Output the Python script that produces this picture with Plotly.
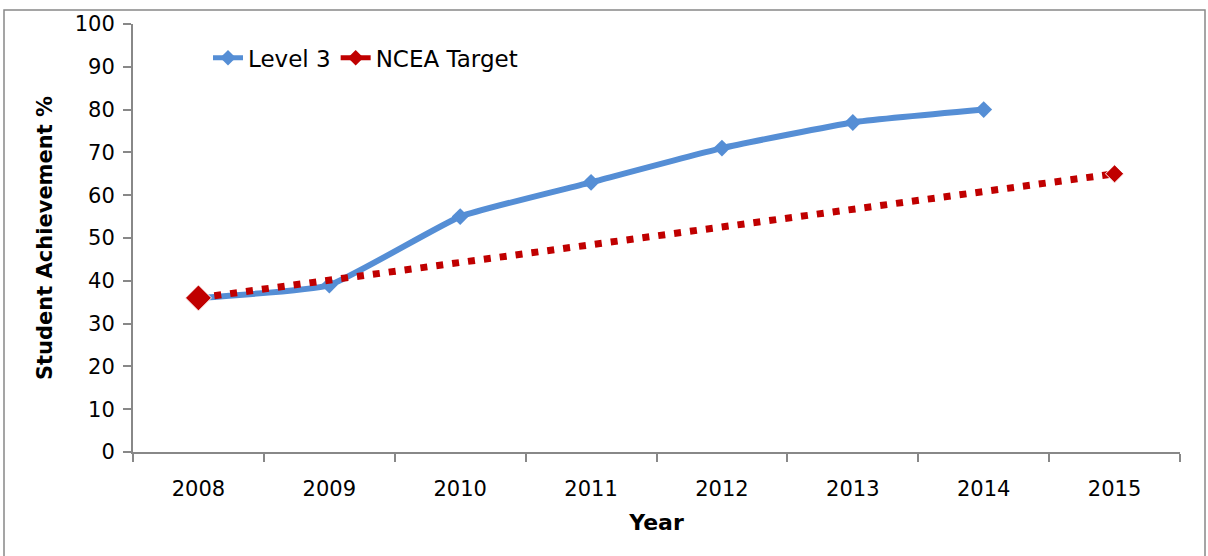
import plotly.graph_objects as go

years = ["2008", "2009", "2010", "2011", "2012", "2013", "2014", "2015"]
level3 = [36, 39, 55, 63, 71, 77, 80, None]
ncea_target = [36, None, None, None, None, None, None, 65]
ncea_marker_sizes = [20, 0, 0, 0, 0, 0, 0, 14]
y_ticks = [0, 10, 20, 30, 40, 50, 60, 70, 80, 90, 100]

W, H = 1208, 556
ml, mr, mt, mb = 133, 28, 21, 104
pw, ph = W - ml - mr, H - mt - mb

BLUE, RED = "#558ED5", "#C00000"

fig = go.Figure()
fig.add_trace(go.Scatter(
    x=years, y=level3, name="Level 3", mode="lines+markers",
    line=dict(color=BLUE, width=6, shape="spline", smoothing=0.4),
    marker=dict(symbol="diamond", size=13, color=BLUE),
))
fig.add_trace(go.Scatter(
    x=years, y=ncea_target, name="NCEA Target", mode="lines+markers",
    connectgaps=True, showlegend=False,
    line=dict(color=RED, width=7, dash="7px,9px"),
    marker=dict(symbol="diamond", size=ncea_marker_sizes, color=RED, opacity=1),
))
# legend entry for the target (solid line sample, as in the original)
fig.add_trace(go.Scatter(
    x=[None], y=[None], name="NCEA Target", mode="lines+markers",
    line=dict(color=RED, width=6),
    marker=dict(symbol="diamond", size=13, color=RED),
))

font = "DejaVu Sans, Verdana, sans-serif"
fig.update_layout(
    width=W, height=H,
    margin=dict(l=ml, r=mr, t=mt, b=mb),
    paper_bgcolor="white", plot_bgcolor="white",
    font=dict(family=font, size=21, color="black"),
    showlegend=True,
    legend=dict(x=(208 - ml) / pw, y=(H - mb - 55) / ph, xanchor="left", yanchor="middle",
                orientation="h", bgcolor="rgba(0,0,0,0)", itemwidth=30,
                font=dict(size=23), tracegroupgap=0, itemsizing="constant"),
    xaxis=dict(
        type="category", range=[-0.5, 7.5],
        showline=True, linecolor="#888888", linewidth=2,
        ticks="outside", tickson="boundaries", ticklen=8, tickcolor="#888888", tickwidth=2,
        showgrid=False, zeroline=False,
        tickfont=dict(size=21), ticklabelstandoff=17,
        title=dict(text="<b>Year</b>", font=dict(size=22), standoff=14),
    ),
    yaxis=dict(
        range=[0, 100], tickvals=y_ticks,
        showline=True, linecolor="#888888", linewidth=2,
        ticks="outside", ticklen=8, tickcolor="#888888", tickwidth=2,
        showgrid=False, zeroline=False,
        tickfont=dict(size=21), ticklabelstandoff=4,
        title=dict(text="<b>Student Achievement %</b>", font=dict(size=21), standoff=16),
    ),
)

# outer chart border (bottom edge lies outside the picture)
fig.add_shape(type="rect", xref="paper", yref="paper",
              x0=(4 - ml) / pw, x1=(1205 - ml) / pw,
              y0=(H - mb - 600) / ph, y1=(H - mb - 7) / ph,
              line=dict(color="#888888", width=1.5), fillcolor="rgba(0,0,0,0)", layer="below")

fig.write_html("out.html", config={"displayModeBar": False})

with open("out.html", "r", encoding="utf-8") as f:
    html = f.read()
html = html.replace("<head>", "<head><style>html,body{margin:0;padding:0;overflow:hidden;}</style>", 1)
with open("out.html", "w", encoding="utf-8") as f:
    f.write(html)
